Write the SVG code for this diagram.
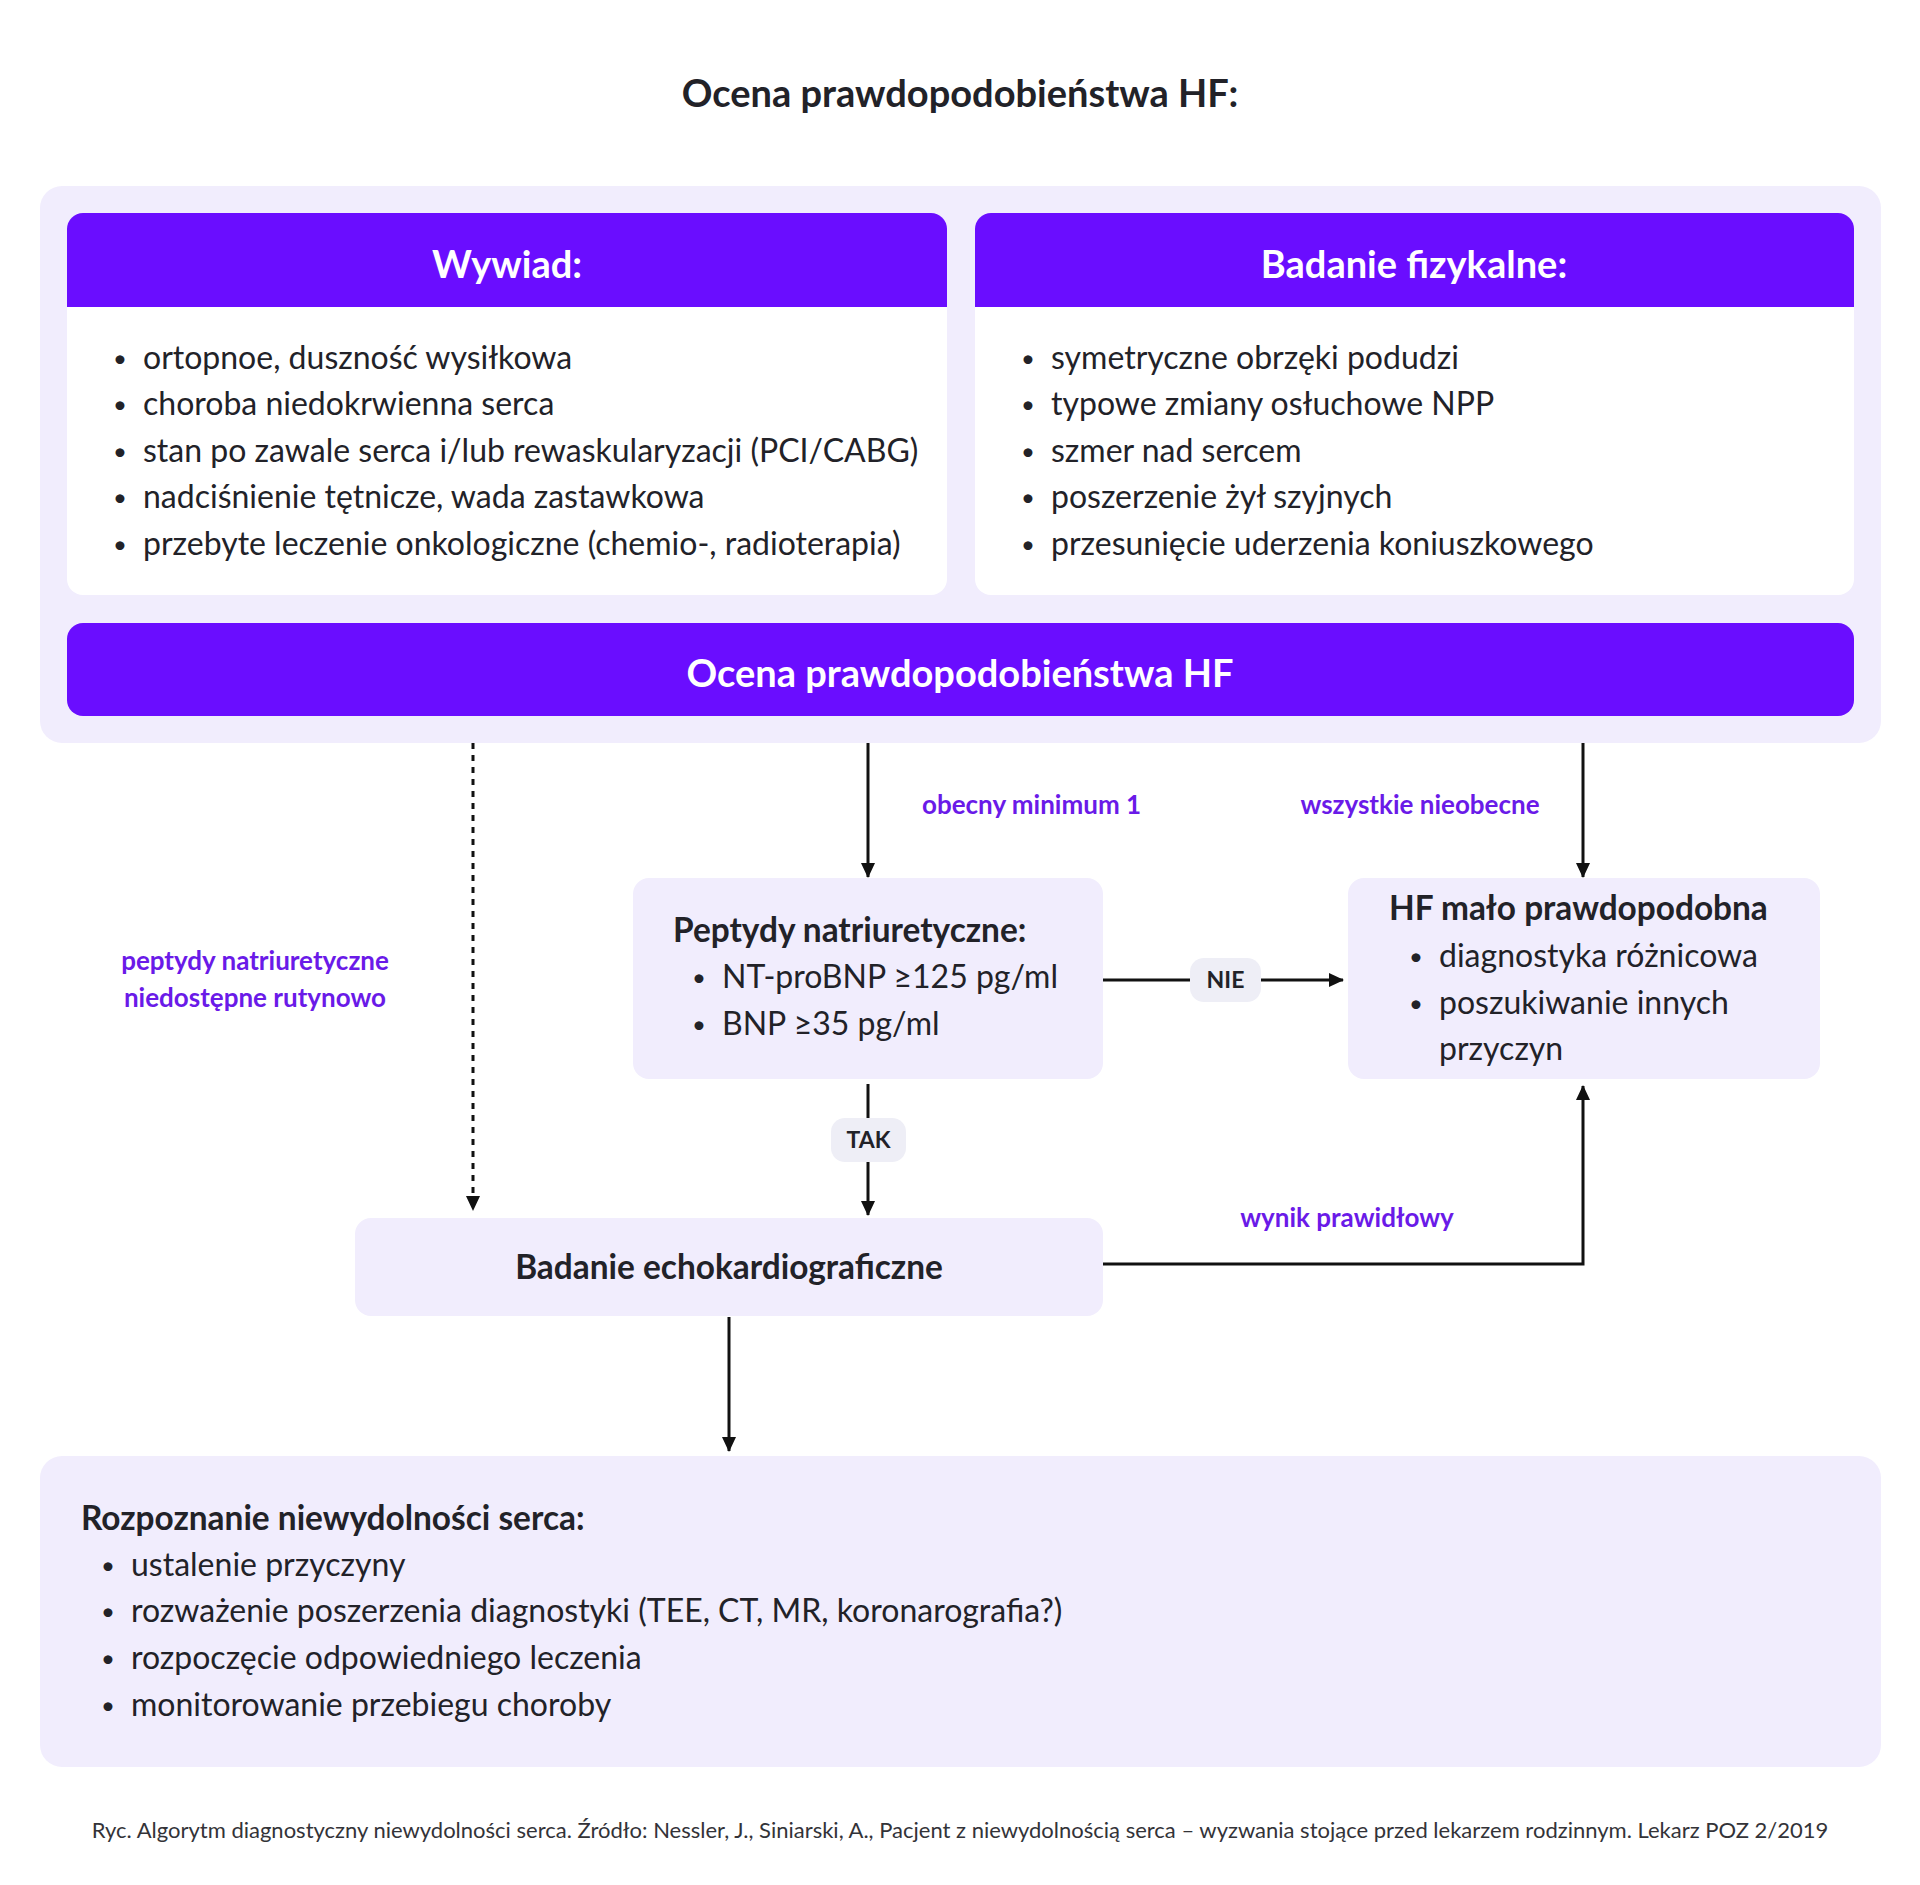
<svg xmlns="http://www.w3.org/2000/svg" width="1920" height="1885" viewBox="0 0 1920 1885">
<defs>
<style>
text{font-family:Lato,"Noto Sans","Liberation Sans",sans-serif;fill:#222228}
.title{font-size:38px;font-weight:bold;text-anchor:middle}
.hdr{font-size:38px;font-weight:bold;fill:#ffffff;text-anchor:middle}
.item{font-size:32px}
.bul{font-size:24px}
.bold{font-size:33.4px;font-weight:bold}
.lbl{font-size:26px;font-weight:bold;fill:#6A1AE8}
.pill{font-size:23px;font-weight:bold;text-anchor:middle}
.cap{font-size:22px;fill:#333338;text-anchor:middle}
.lav{fill:#F1EDFD}
.purple{fill:#6A0DFF}
.con{stroke:#111;stroke-width:3;fill:none}
</style>
<marker id="ah" markerWidth="16" markerHeight="16" refX="14" refY="8" orient="auto" markerUnits="userSpaceOnUse">
<path d="M0,1 L15,8 L0,15 Z" fill="#111"/>
</marker>
</defs>
<rect width="1920" height="1885" fill="#ffffff"/>
<text class="title" x="960" y="107">Ocena prawdopodobieństwa HF:</text>

<g id="panel-top">
<rect class="lav" x="40" y="186" width="1841" height="557" rx="22"/>
</g>

<g id="wywiad">
<rect x="67" y="213" width="880" height="382" rx="16" fill="#ffffff"/>
<path class="purple" d="M67,229 a16,16 0 0 1 16,-16 h848 a16,16 0 0 1 16,16 v78 h-880 Z"/>
<text class="hdr" x="507" y="278">Wywiad:</text>
<text class="bul" x="113" y="367">•</text><text class="item" x="143" y="369">ortopnoe, duszność wysiłkowa</text>
<text class="bul" x="113" y="413">•</text><text class="item" x="143" y="415">choroba niedokrwienna serca</text>
<text class="bul" x="113" y="460">•</text><text class="item" x="143" y="462">stan po zawale serca i/lub rewaskularyzacji (PCI/CABG)</text>
<text class="bul" x="113" y="506">•</text><text class="item" x="143" y="508">nadciśnienie tętnicze, wada zastawkowa</text>
<text class="bul" x="113" y="553">•</text><text class="item" x="143" y="555">przebyte leczenie onkologiczne (chemio-, radioterapia)</text>
</g>

<g id="badanie">
<rect x="975" y="213" width="879" height="382" rx="16" fill="#ffffff"/>
<path class="purple" d="M975,229 a16,16 0 0 1 16,-16 h847 a16,16 0 0 1 16,16 v78 h-879 Z"/>
<text class="hdr" x="1414" y="278">Badanie fizykalne:</text>
<text class="bul" x="1021" y="367">•</text><text class="item" x="1051" y="369">symetryczne obrzęki podudzi</text>
<text class="bul" x="1021" y="413">•</text><text class="item" x="1051" y="415">typowe zmiany osłuchowe NPP</text>
<text class="bul" x="1021" y="460">•</text><text class="item" x="1051" y="462">szmer nad sercem</text>
<text class="bul" x="1021" y="506">•</text><text class="item" x="1051" y="508">poszerzenie żył szyjnych</text>
<text class="bul" x="1021" y="553">•</text><text class="item" x="1051" y="555">przesunięcie uderzenia koniuszkowego</text>
</g>

<g id="ocena">
<rect class="purple" x="67" y="623" width="1787" height="93" rx="16"/>
<text class="hdr" x="960" y="687">Ocena prawdopodobieństwa HF</text>
</g>

<g id="connectors">
<line class="con" x1="473" y1="743" x2="473" y2="1210" stroke-dasharray="6 6" marker-end="url(#ah)"/>
<line class="con" x1="868" y1="743" x2="868" y2="877" marker-end="url(#ah)"/>
<line class="con" x1="1583" y1="743" x2="1583" y2="877" marker-end="url(#ah)"/>
<line class="con" x1="1103" y1="980" x2="1343" y2="980" marker-end="url(#ah)"/>
<line class="con" x1="868" y1="1084" x2="868" y2="1215" marker-end="url(#ah)"/>
<polyline class="con" points="1103,1264 1583,1264 1583,1086" marker-end="url(#ah)"/>
<line class="con" x1="729" y1="1317" x2="729" y2="1451" marker-end="url(#ah)"/>
<g id="pill-nie">
<rect x="1190" y="958" width="71" height="44" rx="14" fill="#EEEEF6"/>
<text class="pill" x="1225.5" y="988">NIE</text>
</g>
<g id="pill-tak">
<rect x="831" y="1118" width="75" height="44" rx="14" fill="#EEEEF6"/>
<text class="pill" x="868.5" y="1148">TAK</text>
</g>
<text class="lbl" x="922" y="814">obecny minimum 1</text>
<text class="lbl" x="1420" y="814" text-anchor="middle">wszystkie nieobecne</text>
<text class="lbl" x="255" y="970" text-anchor="middle">peptydy natriuretyczne</text>
<text class="lbl" x="255" y="1007" text-anchor="middle">niedostępne rutynowo</text>
<text class="lbl" x="1347" y="1227" text-anchor="middle">wynik prawidłowy</text>
</g>

<g id="peptydy">
<rect class="lav" x="633" y="878" width="470" height="201" rx="16"/>
<text class="bold" x="673" y="942">Peptydy natriuretyczne:</text>
<text class="bul" x="692" y="986">•</text><text class="item" x="722" y="988">NT-proBNP ≥125 pg/ml</text>
<text class="bul" x="692" y="1033">•</text><text class="item" x="722" y="1035">BNP ≥35 pg/ml</text>
</g>

<g id="hf-malo">
<rect class="lav" x="1348" y="878" width="472" height="201" rx="16"/>
<text class="bold" x="1389" y="920">HF mało prawdopodobna</text>
<text class="bul" x="1409" y="965">•</text><text class="item" x="1439" y="967">diagnostyka różnicowa</text>
<text class="bul" x="1409" y="1012">•</text><text class="item" x="1439" y="1014">poszukiwanie innych</text>
<text class="item" x="1439" y="1060">przyczyn</text>
</g>

<g id="echo">
<rect class="lav" x="355" y="1218" width="748" height="98" rx="16"/>
<text class="bold" x="729" y="1279" text-anchor="middle">Badanie echokardiograficzne</text>
</g>

<g id="rozpoznanie">
<rect class="lav" x="40" y="1456" width="1841" height="311" rx="22"/>
<text class="bold" x="81" y="1530">Rozpoznanie niewydolności serca:</text>
<text class="bul" x="101" y="1574">•</text><text class="item" x="131" y="1576">ustalenie przyczyny</text>
<text class="bul" x="101" y="1620">•</text><text class="item" x="131" y="1622">rozważenie poszerzenia diagnostyki (TEE, CT, MR, koronarografia?)</text>
<text class="bul" x="101" y="1667">•</text><text class="item" x="131" y="1669">rozpoczęcie odpowiedniego leczenia</text>
<text class="bul" x="101" y="1714">•</text><text class="item" x="131" y="1716">monitorowanie przebiegu choroby</text>
</g>

<text class="cap" x="960" y="1838">Ryc. Algorytm diagnostyczny niewydolności serca. Źródło: Nessler, J., Siniarski, A., Pacjent z niewydolnością serca – wyzwania stojące przed lekarzem rodzinnym. Lekarz POZ 2/2019</text>
</svg>
